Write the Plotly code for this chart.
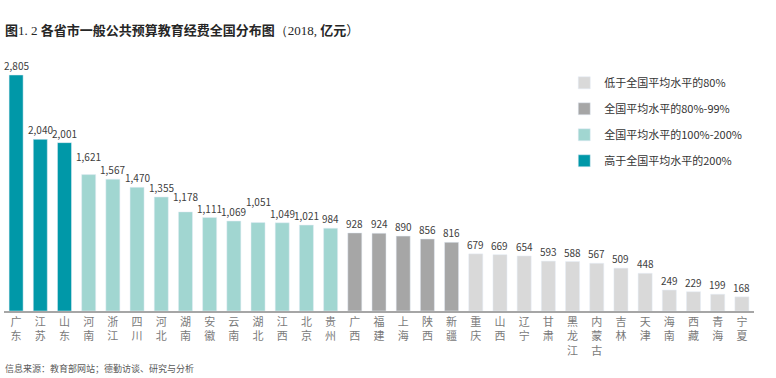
import plotly.graph_objects as go

provinces = ["广东","江苏","山东","河南","浙江","四川","河北","湖南","安徽","云南","湖北","江西","北京","贵州",
             "广西","福建","上海","陕西","新疆","重庆","山西","辽宁","甘肃","黑龙江","内蒙古","吉林","天津",
             "海南","西藏","青海","宁夏"]
values = [2805,2040,2001,1621,1567,1470,1355,1178,1111,1069,1051,1049,1021,984,
          928,924,890,856,816,679,669,654,593,588,567,509,448,249,229,199,168]
groups = ["high"]*3 + ["mid_high"]*11 + ["mid_low"]*5 + ["low"]*12

group_names = {
    "low": "低于全国平均水平的80%",
    "mid_low": "全国平均水平的80%-99%",
    "mid_high": "全国平均水平的100%-200%",
    "high": "高于全国平均水平的200%",
}
group_colors = {"low": "#D9D9D9", "mid_low": "#A6A6A6", "mid_high": "#A1D6D1", "high": "#0098A8"}
legend_order = ["low", "mid_low", "mid_high", "high"]

# extra lift (px) of some value labels, staggered in the original to avoid overlap
label_lift = {"河南": 9, "湖南": 6, "湖北": 12}

tick_text = ["<br>".join(list(p)) for p in provinces]

FONT = "Noto Sans CJK SC"
SERIF = "Liberation Serif"
fig = go.Figure()
for g in legend_order:
    xs = [p for p, gg in zip(provinces, groups) if gg == g]
    ys = [v for v, gg in zip(values, groups) if gg == g]
    fig.add_trace(go.Bar(
        x=xs, y=ys, name=group_names[g], marker_color=group_colors[g],
        legendgroup=g, hoverinfo="x+y",
    ))

for p, v in zip(provinces, values):
    fig.add_annotation(x=p, y=v, xref="x", yref="y", text=f"{v:,}", showarrow=False,
                       yanchor="bottom", xanchor="center", yshift=label_lift.get(p, 0),
                       font=dict(size=10, color="#404040", family=FONT))

fig.update_layout(
    width=776, height=378,
    margin=dict(l=4, r=22, t=50, b=67),
    paper_bgcolor="white", plot_bgcolor="white",
    barmode="overlay", bargap=0.42,
    font=dict(family=FONT, color="#404040"),
    showlegend=True,
    legend=dict(x=0.747, y=0.93, xanchor="left", yanchor="top",
                font=dict(size=11, color="#333333", family=FONT),
                traceorder="grouped", tracegroupgap=7,
                itemwidth=30, bgcolor="rgba(0,0,0,0)"),
    xaxis=dict(categoryorder="array", categoryarray=provinces,
               tickmode="array", tickvals=provinces, ticktext=tick_text,
               tickfont=dict(size=11, color="#7a7a7a", family=FONT),
               showline=True, linecolor="#A6A6A6", linewidth=1.5,
               ticks="", showgrid=False, range=[-0.5, 30.5], automargin=False),
    yaxis=dict(visible=False, range=[0, 3102], showgrid=False, zeroline=False),
)

title_text = (f"<b>图</b><span style='font-family:{SERIF}'>1. 2 </span>"
              f"<b>各省市一般公共预算教育经费全国分布图</b>"
              f"<span style='font-family:{SERIF}'>（2018, </span><b>亿元</b>）")
fig.add_annotation(xref="paper", yref="paper", x=-0.002, y=1.0, yshift=21, xanchor="left", yanchor="middle",
                   showarrow=False, text=title_text,
                   font=dict(size=13, color="#262626", family=FONT))
fig.add_annotation(xref="paper", yref="paper", x=-0.002, y=0, yshift=-57, xanchor="left", yanchor="middle",
                   showarrow=False,
                   text="信息来源：教育部网站；德勤访谈、研究与分析",
                   font=dict(size=9, color="#595959", family=FONT))

fig.write_html("out.html", config={"displayModeBar": False},
               post_script="document.body.style.margin='0';")
